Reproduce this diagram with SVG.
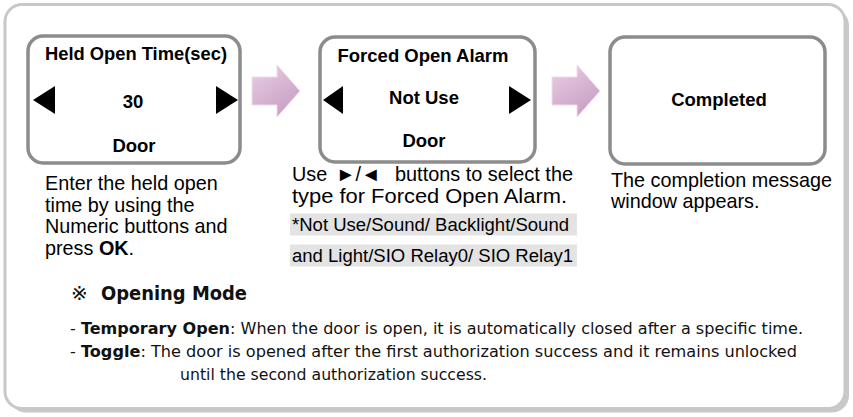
<svg xmlns="http://www.w3.org/2000/svg" width="853" height="417" viewBox="0 0 853 417">
  <defs>
    <linearGradient id="arrowGrad" x1="0" y1="0" x2="0.6" y2="1">
      <stop offset="0" stop-color="#e9d0e5"/>
      <stop offset="1" stop-color="#c99fc4"/>
    </linearGradient>
    <style>
      .screen { fill: #ffffff; stroke: #8c8c8c; stroke-width: 3.5; }
      .tri { fill: #000000; }
      .head { font-family: "Liberation Sans", Arial, sans-serif; font-weight: bold; font-size: 18.5px; fill: #000; text-anchor: middle; }
      .body { font-family: "Liberation Sans", Arial, sans-serif; font-size: 19.8px; fill: #000; }
      .small { font-family: "Liberation Sans", Arial, sans-serif; font-size: 17.5px; fill: #000; }
      .note { font-family: "DejaVu Sans", Tahoma, "Noto Sans CJK KR", sans-serif; font-size: 16.5px; fill: #111; }
      .notehead { font-family: "DejaVu Sans", Tahoma, "Noto Sans CJK KR", sans-serif; font-size: 20px; fill: #111; }
      .hl { fill: #e3e3e3; }
      .arrow { fill: url(#arrowGrad); stroke: #eedcec; stroke-width: 1; }
    </style>
  </defs>

  <!-- outer frame -->
  <g id="frame">
    <rect x="9" y="8.5" width="840" height="404" rx="17" fill="#c9c9c9"/>
    <rect x="5" y="4.5" width="840" height="404" rx="17" fill="#ffffff" stroke="#c8c8c8" stroke-width="3"/>
  </g>

  <!-- connectors -->
  <g id="connectors">
    <polygon class="arrow" points="252,77 277,77 277,65 300,91 277,117 277,105 252,105"/>
    <polygon class="arrow" points="552,77 577,77 577,65 600,91 577,117 577,105 552,105"/>
  </g>

  <g id="node-held-open-time">
    <rect class="screen" x="28" y="36" width="212" height="127" rx="15"/>
    <text class="head" x="136" y="60" textLength="182" lengthAdjust="spacingAndGlyphs">Held Open Time(sec)</text>
    <polygon class="tri" points="33,100 55,86 55,114"/>
    <text class="head" x="133" y="108">30</text>
    <polygon class="tri" points="216,86 238,100 216,114"/>
    <text class="head" x="134" y="152">Door</text>
    <text class="body" x="45" y="190">Enter the held open</text>
    <text class="body" x="45" y="211.5">time by using the</text>
    <text class="body" x="45" y="233">Numeric buttons and</text>
    <text class="body" x="45" y="254.5">press <tspan font-weight="bold">OK</tspan>.</text>
  </g>

  <g id="node-forced-open-alarm">
    <rect class="screen" x="320" y="37" width="215" height="125" rx="15"/>
    <text class="head" x="423" y="62">Forced Open Alarm</text>
    <polygon class="tri" points="323,100 343,86 343,114"/>
    <text class="head" x="424" y="103.5">Not Use</text>
    <polygon class="tri" points="509,86 531,100 509,114"/>
    <text class="head" x="424" y="146.5">Door</text>
    <text class="body" y="181"><tspan x="292">Use </tspan><tspan x="336">►/◄ </tspan><tspan x="395" textLength="178" lengthAdjust="spacingAndGlyphs">buttons to select the</tspan></text>
    <text class="body" x="292" y="203" textLength="275" lengthAdjust="spacingAndGlyphs">type for Forced Open Alarm.</text>
    <rect class="hl" x="290" y="213.5" width="287" height="22"/>
    <rect class="hl" x="290" y="244.5" width="287" height="22"/>
    <text class="small" x="292" y="231" textLength="277" lengthAdjust="spacingAndGlyphs">*Not Use/Sound/ Backlight/Sound</text>
    <text class="small" x="292" y="262" textLength="281" lengthAdjust="spacingAndGlyphs">and Light/SIO Relay0/ SIO Relay1</text>
  </g>

  <g id="node-completed">
    <rect class="screen" x="610" y="37" width="215" height="127" rx="15"/>
    <text class="head" x="719" y="106">Completed</text>
    <text class="body" x="611" y="187">The completion message</text>
    <text class="body" x="611" y="208">window appears.</text>
  </g>

  <g id="notes">
    <text class="notehead" x="71" y="300"><tspan>※ </tspan><tspan x="101" font-weight="bold" textLength="146" lengthAdjust="spacingAndGlyphs">Opening Mode</tspan></text>
    <text class="note" x="70" y="334" textLength="733" lengthAdjust="spacingAndGlyphs">- <tspan font-weight="bold">Temporary Open</tspan>: When the door is open, it is automatically closed after a specific time.</text>
    <text class="note" x="70" y="357" textLength="727" lengthAdjust="spacingAndGlyphs">- <tspan font-weight="bold">Toggle</tspan>: The door is opened after the first authorization success and it remains unlocked</text>
    <text class="note" x="180" y="380" textLength="307" lengthAdjust="spacingAndGlyphs">until the second authorization success.</text>
  </g>
</svg>
